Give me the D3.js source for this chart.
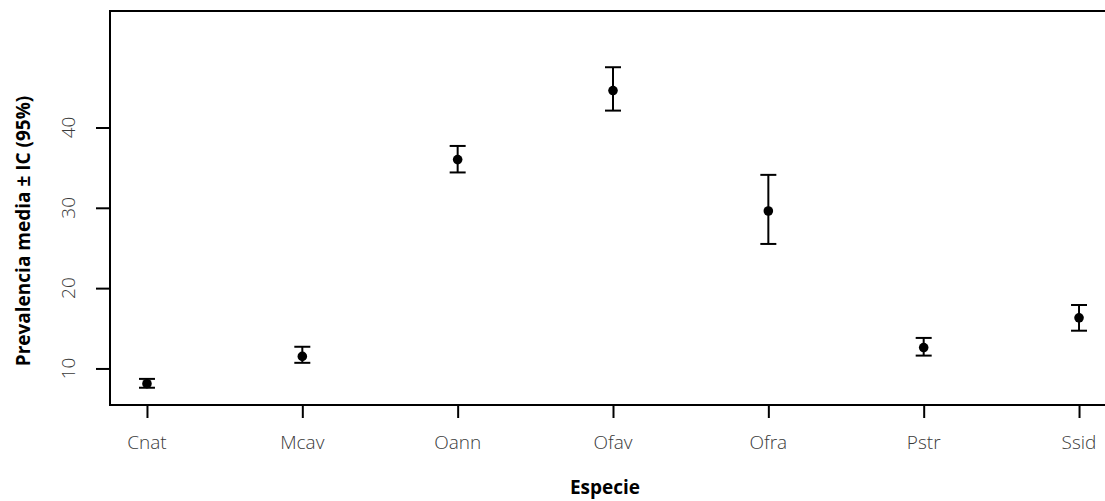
<!DOCTYPE html>
<html>
<head>
<meta charset="utf-8">
<script src="https://cdn.jsdelivr.net/npm/d3@7"></script>
<style>
  html, body { margin: 0; padding: 0; background: #fff; }
  svg { display: block; }
  .tick-label { font-family: "Open Sans", sans-serif; font-size: 19px; font-weight: 300; fill: #3a3a3a; }
  .axis-title { font-family: "Open Sans", sans-serif; font-size: 19px; font-weight: bold; fill: #000; }
</style>
</head>
<body>
<svg id="chart" width="1105" height="501"></svg>
<script>
// Species and their mean prevalence with 95% confidence limits
const species = ["Cnat", "Mcav", "Oann", "Ofav", "Ofra", "Pstr", "Ssid"];
const meanPrev = [8.1, 11.5, 36.0, 44.6, 29.6, 12.6, 16.3];
const lowerCI  = [7.6, 10.7, 34.4, 42.1, 25.5, 11.6, 14.7];
const upperCI  = [8.7, 12.7, 37.7, 47.5, 34.1, 13.8, 17.9];
const yTicks = [10, 20, 30, 40];

const svg = d3.select("#chart");

const plot = { left: 110, top: 11, bottom: 405, right: 1116 };

// Categories sit at integer positions 1..7 as in a base-graphics plot
const x = d3.scaleLinear().domain([0.762, 7.238]).range([plot.left, plot.right]);
const y = d3.scaleLinear().domain([5.45, 54.5]).range([plot.bottom, plot.top]);

// Plot frame
svg.append("rect")
  .attr("x", plot.left).attr("y", plot.top)
  .attr("width", plot.right - plot.left).attr("height", plot.bottom - plot.top)
  .attr("fill", "none").attr("stroke", "#000").attr("stroke-width", 2);

// Y axis: ticks outward, labels rotated
const yAxis = svg.append("g").attr("transform", `translate(${plot.left},0)`)
  .call(d3.axisLeft(y).tickValues(yTicks).tickSize(14).tickFormat(""));
yAxis.select(".domain").remove();
yAxis.selectAll("line").attr("stroke", "#000").attr("stroke-width", 2);
yTicks.forEach(v => {
  svg.append("text").attr("class", "tick-label")
    .attr("transform", `translate(75,${y(v)}) rotate(-90)`)
    .attr("text-anchor", "middle")
    .text(v);
});

// X axis: one tick per species
const xAxis = svg.append("g").attr("transform", `translate(0,${plot.bottom})`)
  .call(d3.axisBottom(x).tickValues(d3.range(1, species.length + 1)).tickSize(13).tickFormat(""));
xAxis.select(".domain").remove();
xAxis.selectAll("line").attr("stroke", "#000").attr("stroke-width", 2);
species.forEach((s, i) => {
  svg.append("text").attr("class", "tick-label")
    .attr("x", x(i + 1)).attr("y", 449)
    .attr("text-anchor", "middle")
    .text(s);
});

// Axis titles
svg.append("text").attr("class", "axis-title")
  .attr("x", 605).attr("y", 494)
  .attr("text-anchor", "middle").text("Especie");
svg.append("text").attr("class", "axis-title")
  .attr("transform", "translate(30,231) rotate(-90)")
  .attr("text-anchor", "middle").text("Prevalencia media ± IC (95%)");

// Error bars with caps
const capHalf = 8;
const bars = svg.append("g").attr("stroke", "#000").attr("stroke-width", 2);
species.forEach((s, i) => {
  const cx = x(i + 1);
  bars.append("line").attr("x1", cx).attr("x2", cx).attr("y1", y(lowerCI[i])).attr("y2", y(upperCI[i]));
  bars.append("line").attr("x1", cx - capHalf).attr("x2", cx + capHalf).attr("y1", y(lowerCI[i])).attr("y2", y(lowerCI[i]));
  bars.append("line").attr("x1", cx - capHalf).attr("x2", cx + capHalf).attr("y1", y(upperCI[i])).attr("y2", y(upperCI[i]));
});

// Mean points
svg.append("g").selectAll("circle")
  .data(meanPrev)
  .join("circle")
  .attr("cx", (d, i) => x(i + 1))
  .attr("cy", d => y(d))
  .attr("r", 4.8)
  .attr("fill", "#000");
</script>
</body>
</html>
